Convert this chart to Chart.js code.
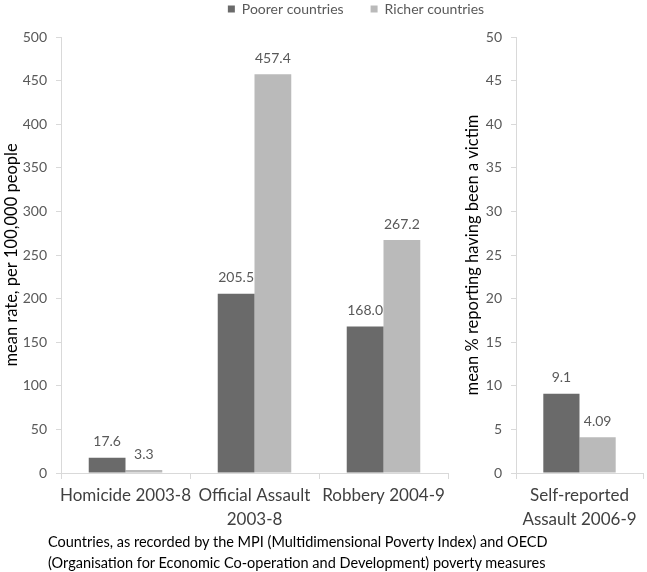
<!DOCTYPE html>
<html>
<head>
<meta charset="utf-8">
<script src="https://cdn.jsdelivr.net/npm/chart.js@4"></script>
<style>
  html, body { margin: 0; padding: 0; background: #fff; overflow: hidden; }
  #wrap { position: relative; width: 647px; height: 572px; overflow: hidden; }
  #leftChart { position: absolute; left: 0; top: -25px; }
  #rightChart { position: absolute; left: 440px; top: 0; }
  #caption {
    position: absolute; left: 48px; top: 531px;
    font-family: Lato, sans-serif; font-size: 14.5px; line-height: 21px; color: #000;
  }
</style>
</head>
<body>
<div id="wrap">
  <canvas id="leftChart" width="712" height="597"></canvas>
  <canvas id="rightChart" width="207" height="572"></canvas>
  <div id="caption">Countries, as recorded by the MPI (Multidimensional Poverty Index) and OECD<br>(Organisation for Economic Co-operation and Development) poverty measures</div>
</div>
<script>
const seriesNames = ['Poorer countries', 'Richer countries'];
const seriesColors = ['#6a6a6a', '#bababa'];

// left panel: rates per 100,000
const leftCategories = ['Homicide 2003-8', ['Official Assault', '2003-8'], 'Robbery 2004-9'];
const leftPoorer = [17.6, 205.5, 168.0];
const leftRicher = [3.3, 457.4, 267.2];
const leftPoorerText = ['17.6', '205.5', '168.0'];
const leftRicherText = ['3.3', '457.4', '267.2'];
const leftAxis = { max: 500, step: 50 };

// right panel: self-reported %
const rightCategories = [['Self-reported', 'Assault 2006-9']];
const rightPoorer = [9.1];
const rightRicher = [4.09];
const rightPoorerText = ['9.1'];
const rightRicherText = ['4.09'];
const rightAxis = { max: 50, step: 5 };

const FONT = 'Lato, sans-serif';
const axisGrey = '#d9d9d9';

// writes the value text above each bar
const valueLabels = {
  id: 'valueLabels',
  afterDatasetsDraw(chart) {
    const ctx = chart.ctx;
    ctx.save();
    ctx.font = '14px ' + FONT;
    ctx.fillStyle = '#595959';
    ctx.textAlign = 'center';
    ctx.textBaseline = 'middle';
    chart.data.datasets.forEach((ds, i) => {
      chart.getDatasetMeta(i).data.forEach((bar, j) => {
        ctx.fillText(ds.valueText[j], bar.x, bar.y - 16);
      });
    });
    ctx.restore();
  }
};

function makeDatasets(poorer, richer, poorerText, richerText) {
  return [
    { label: seriesNames[0], data: poorer, valueText: poorerText, backgroundColor: seriesColors[0] },
    { label: seriesNames[1], data: richer, valueText: richerText, backgroundColor: seriesColors[1] }
  ];
}

function xScale(hideLast) {
  return {
    type: 'category',
    offset: true,
    afterFit: s => { s.height = 99; },
    border: { color: axisGrey },
    grid: {
      offset: true, drawOnChartArea: false, tickLength: 6,
      color: ctx => (hideLast && ctx.index === hideLast) ? 'rgba(0,0,0,0)' : axisGrey
    },
    ticks: { color: '#404040', padding: 4, maxRotation: 0, autoSkip: false,
             font: { family: FONT, size: 17, lineHeight: 1.42 } }
  };
}

function yScale(axis, title, width, titlePad) {
  return {
    min: 0, max: axis.max,
    afterFit: s => { s.width = width; },
    border: { color: axisGrey },
    grid: { drawOnChartArea: false, tickLength: 5, color: axisGrey },
    ticks: { stepSize: axis.step, color: '#595959', padding: 9, font: { family: FONT, size: 14 } },
    title: { display: true, text: title, color: '#000', padding: { top: titlePad, bottom: 0 },
             font: { family: FONT, size: 16.5 } }
  };
}

new Chart(document.getElementById('leftChart'), {
  type: 'bar',
  data: { labels: leftCategories, datasets: makeDatasets(leftPoorer, leftRicher, leftPoorerText, leftRicherText) },
  options: {
    responsive: false, animation: false, devicePixelRatio: 1,
    categoryPercentage: 0.57, barPercentage: 1.0,
    layout: { padding: 0 },
    plugins: {
      legend: {
        position: 'top',
        labels: { boxWidth: 7, boxHeight: 7, padding: 27, color: '#595959', font: { family: FONT, size: 14 } }
      },
      tooltip: { enabled: false }
    },
    scales: {
      x: xScale(3),
      y: yScale(leftAxis, 'mean rate, per 100,000 people', 61, 2),
      // spacers: keep the plot at the right place while the legend centres on the whole figure
      xTop: { type: 'linear', position: 'top', afterFit: s => { s.height = 11; },
              ticks: { display: false }, grid: { display: false }, border: { display: false } },
      yRight: { type: 'linear', position: 'right', afterFit: s => { s.width = 264; },
                ticks: { display: false }, grid: { display: false }, border: { display: false } }
    }
  },
  plugins: [valueLabels]
});

new Chart(document.getElementById('rightChart'), {
  type: 'bar',
  data: { labels: rightCategories, datasets: makeDatasets(rightPoorer, rightRicher, rightPoorerText, rightRicherText) },
  options: {
    responsive: false, animation: false, devicePixelRatio: 1,
    categoryPercentage: 0.57, barPercentage: 1.0,
    layout: { padding: { top: 37, right: 4, left: 0, bottom: 0 } },
    plugins: { legend: { display: false }, tooltip: { enabled: false } },
    scales: {
      x: xScale(0),
      y: yScale(rightAxis, 'mean % reporting having been a victim', 76, 23)
    }
  },
  plugins: [valueLabels]
});
</script>
</body>
</html>
